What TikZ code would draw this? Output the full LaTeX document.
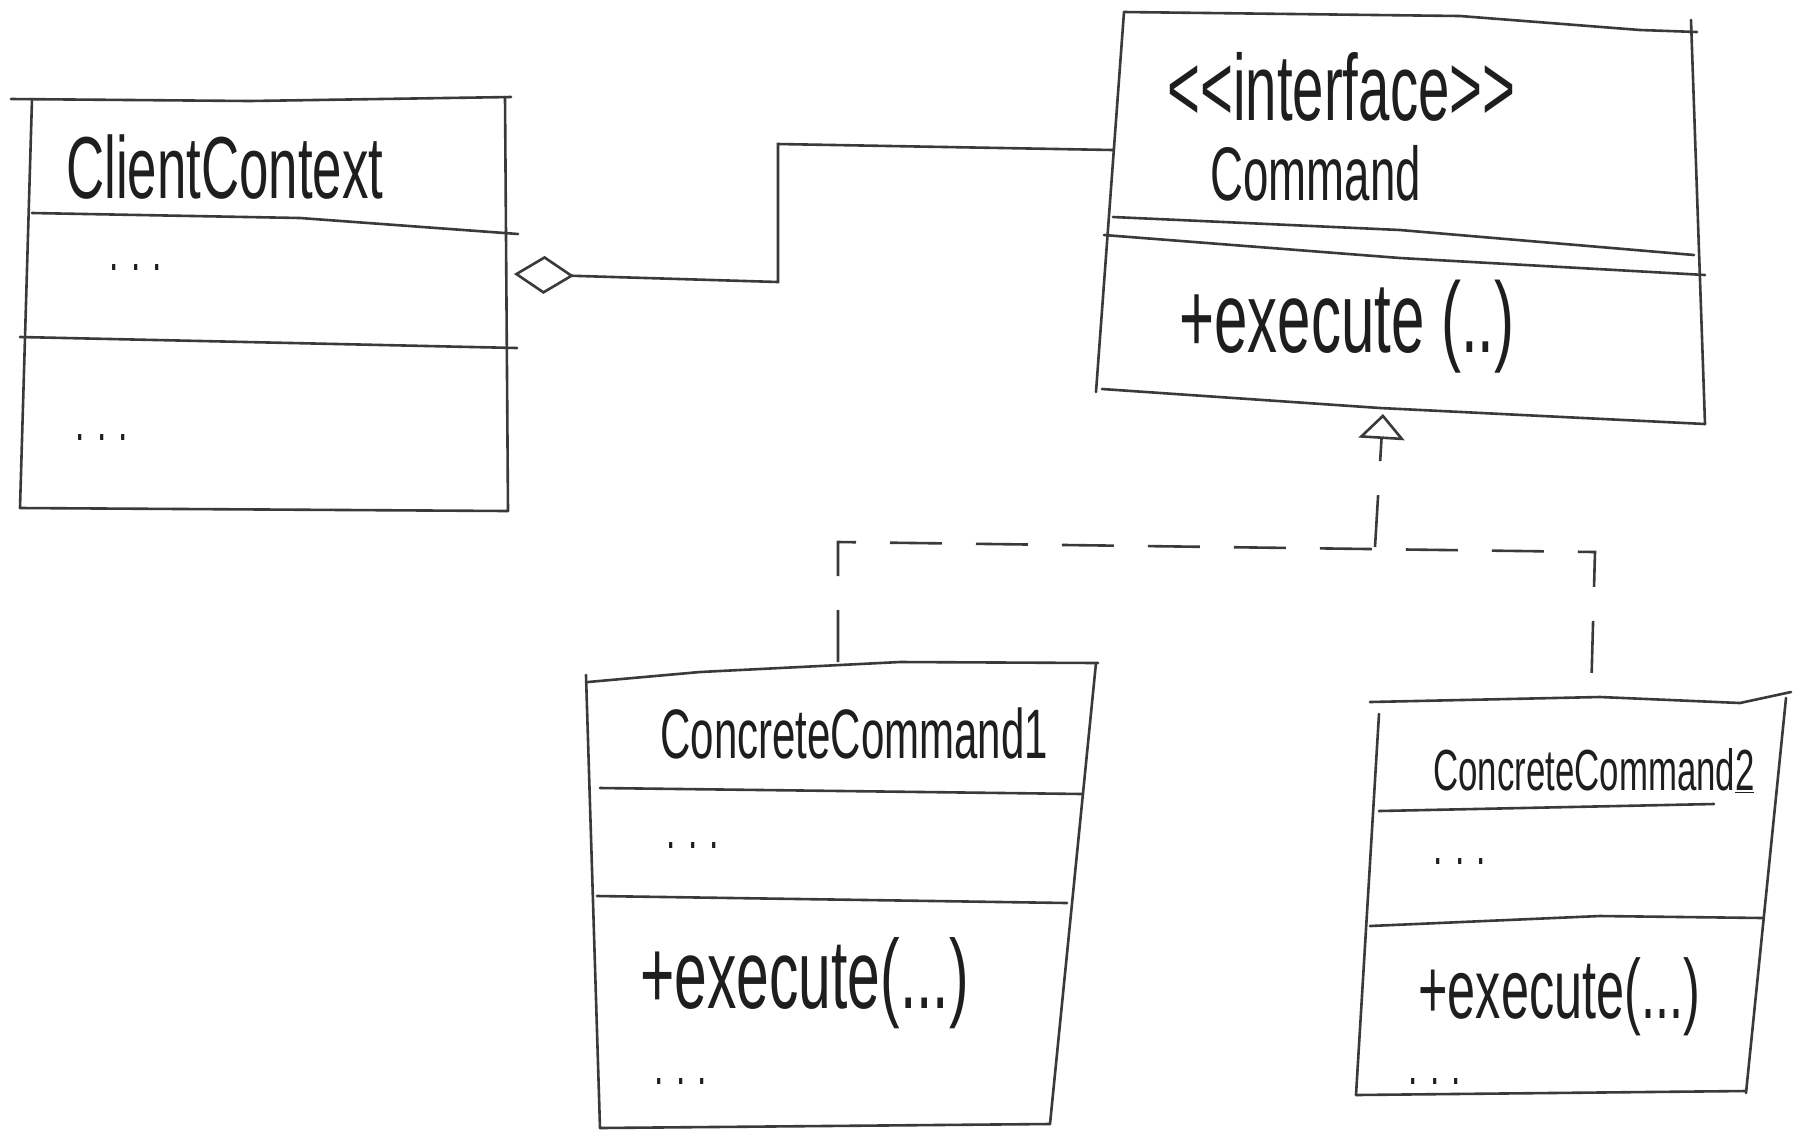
\documentclass[tikz,border=0pt]{standalone}
\usepackage{fontspec}
\setmainfont{Liberation Sans}
\newfontfamily\hand[FakeStretch=0.6]{Liberation Sans}
\usetikzlibrary{arrows.meta}
\definecolor{ink}{HTML}{3A3A3A}
\definecolor{txt}{HTML}{1E1E1E}
\begin{document}
\begin{tikzpicture}[x=0.5pt,y=-0.5pt,
  box/.style={draw=ink,line width=1.3pt,line join=round,line cap=round},
  lbl/.style={inner sep=0pt,text=txt,anchor=base west},
  dots/.style={lbl,font=\hand\fontsize{28}{30}\selectfont},
  conn/.style={draw=ink,line width=1.3pt},
  real/.style={conn,dash pattern=on 26pt off 17pt}]
\fill[white] (0,0) rectangle (1796,1132);
\useasboundingbox (0,0) rectangle (1796,1132);

% ---- ClientContext box
\draw[box] (11,99) -- (250,101) -- (511,97);
\draw[box] (32,99) -- (20,508) -- (508,511) -- (505,97);
\draw[box] (32,213) -- (300,218) -- (518,234);
\draw[box] (20,337) -- (517,348);
\node[lbl,font=\hand\fontsize{44}{48}\selectfont] (ccname) at (66,198) {ClientContext};
\node[dots] (ccattr) at (109,270) {. . .};
\node[dots] (ccops) at (75,440) {. . .};

% ---- Command interface box
\draw[box] (1124,12) -- (1460,16) -- (1640,30) -- (1697,32);
\draw[box] (1124,12) -- (1096,392);
\draw[box] (1691,20) -- (1705,424);
\draw[box] (1102,389) -- (1380,408) -- (1705,424);
\draw[box] (1113,217) -- (1400,230) -- (1694,255);
\draw[box] (1104,235) -- (1400,258) -- (1705,275);
\node[lbl,font=\hand\fontsize{47}{50}\selectfont] (stereo) at (1167,120) {<<interface>>};
\node[lbl,font=\hand\fontsize{38}{42}\selectfont] (cmdname) at (1210,200) {Command};
\node[lbl,font=\hand\fontsize{50}{54}\selectfont] (cmdop) at (1179,352) {+execute (..)};

% ---- ConcreteCommand1 box
\draw[box] (588,682) -- (700,672) -- (900,662) -- (1098,663);
\draw[box] (586,675) -- (600,1128);
\draw[box] (1096,663) -- (1050,1124);
\draw[box] (600,1128) -- (1050,1124);
\draw[box] (600,788) -- (1083,794);
\draw[box] (597,896) -- (1067,903);
\node[lbl,font=\hand\fontsize{35}{38}\selectfont] (c1name) at (660,758) {ConcreteCommand1};
\node[dots] (c1attr) at (666,848) {. . .};
\node[lbl,font=\hand\fontsize{49}{52}\selectfont] (c1op) at (640,1008) {+execute(...)};
\node[dots] (c1more) at (654,1084) {. . .};

% ---- ConcreteCommand2 box
\draw[box] (1370,702) -- (1600,697) -- (1740,703) -- (1791,692);
\draw[box] (1379,714) -- (1356,1095);
\draw[box] (1786,698) -- (1746,1093);
\draw[box] (1356,1095) -- (1746,1091);
\draw[box] (1379,811) -- (1714,804);
\draw[box] (1370,926) -- (1600,916) -- (1763,918);
\node[lbl,font=\hand\fontsize{29}{32}\selectfont] (c2name) at (1433,790) {ConcreteCommand\underline{2}};
\node[dots] (c2attr) at (1433,864) {. . .};
\node[lbl,font=\hand\fontsize{42}{46}\selectfont] (c2op) at (1418,1018) {+execute(...)};
\node[dots] (c2more) at (1408,1084) {. . .};

% ---- aggregation ClientContext <>-- Command
\coordinate (aggA) at (514,274);
\coordinate (bendA) at (778,282);
\coordinate (bendB) at (778,144);
\coordinate (cmdW) at (1113,150);
\draw[conn,{Diamond[open,length=30pt,width=19pt]}-] (aggA) -- (bendA) -- (bendB) -- (cmdW);

% ---- realization ConcreteCommands --|> Command
\coordinate (cc1T) at (838,662);
\coordinate (cc2T) at (1591,697);
\coordinate (jL) at (838,542);
\coordinate (jR) at (1595,552);
\coordinate (jM) at (1375,547);
\coordinate (cmdB) at (1383,414);
\draw[real] (cc1T) -- (jL) -- (jR) -- (cc2T);
\draw[real,-{Triangle[open,length=12.5pt,width=23pt]}] (jM) -- (cmdB);
\end{tikzpicture}
\end{document}
